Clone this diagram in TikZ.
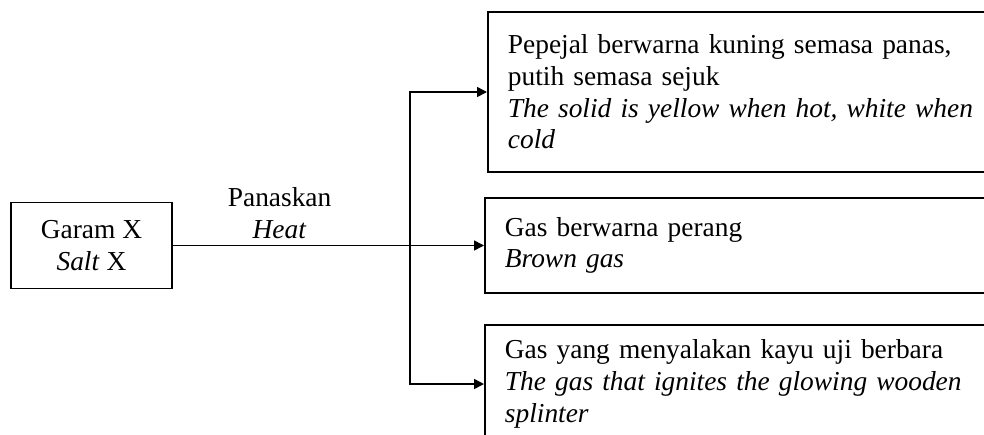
\documentclass[tikz,border=0pt]{standalone}
\usepackage{fontspec}
\setmainfont{Liberation Serif}
\usetikzlibrary{arrows.meta}
\begin{document}
\begin{tikzpicture}[x=0.5pt,y=-0.5pt,
  font=\fontsize{13.7}{15.8}\selectfont,
  box/.style={draw,line width=0.9pt,inner xsep=10pt},
  res/.style={box,anchor=west,align=left,text width=260pt},
  arr/.style={line width=0.75pt,-{Triangle[length=5pt,width=5pt]}}]
\useasboundingbox (0,0) rectangle (984,434);
\clip (0,0) rectangle (984,434);
\node[box,minimum width=80.5pt,minimum height=43pt,align=center] (salt) at (91.5,245.5) {Garam X\\\textit{Salt} X};
\node[res,minimum height=80pt] (top) at (487,92) {Pepejal berwarna kuning semasa panas,\\putih semasa sejuk\\\textit{The solid is yellow when hot, white when}\\\textit{cold}};
\node[res,minimum height=47.5pt] (mid) at (484,245.5) {Gas berwarna perang\\\textit{Brown gas}};
\node[res,minimum height=59pt] (bot) at (484,384) {Gas yang menyalakan kayu uji berbara\\\textit{The gas that ignites the glowing wooden}\\\textit{splinter}};
\coordinate (split) at (410,245.5);
\draw[line width=0.75pt] (salt.east) -- node[pos=0.45,above,align=center,inner sep=3pt] {Panaskan\\\textit{Heat}} (split);
\draw[arr] (split) -- (mid.west);
\draw[arr] (split) |- (top.west);
\draw[arr] (split) |- (bot.west);
\end{tikzpicture}
\end{document}
